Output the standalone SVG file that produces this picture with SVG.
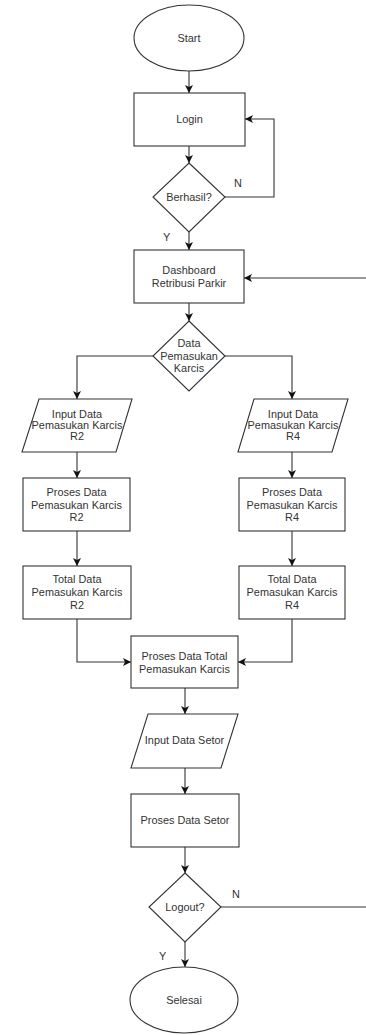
<svg xmlns="http://www.w3.org/2000/svg" width="366" height="1035" viewBox="0 0 366 1035">
<style>
.s{fill:#fff;stroke:#333;stroke-width:1.1}
.t{font-family:"Liberation Sans",Arial,sans-serif;font-size:10.9px;fill:#333;text-anchor:middle}
.c{fill:none;stroke:#333;stroke-width:1.1;marker-end:url(#ah)}
.l{font-family:"Liberation Sans",Arial,sans-serif;font-size:10.9px;fill:#333}
</style>
<defs>
<marker id="ah" markerUnits="userSpaceOnUse" markerWidth="10" markerHeight="10" refX="8" refY="4" orient="auto">
<path d="M0,0 L8,4 L0,8 L2,4 Z" fill="#111"/>
</marker>
</defs>
<rect width="366" height="1035" fill="#fff"/>
<g id="connectors">
<path class="c" d="M189,71 V93"/>
<path class="c" d="M189,146 V163"/>
<path class="c" d="M225,197 H274 V119 H245"/>
<path class="c" d="M189,232 V250"/>
<path class="c" d="M189,303 V321"/>
<path class="c" d="M153,356 H77 V399"/>
<path class="c" d="M225,356 H292 V399"/>
<path class="c" d="M77,452 V478"/>
<path class="c" d="M292,452 V478"/>
<path class="c" d="M77,531 V566"/>
<path class="c" d="M292,531 V566"/>
<path class="c" d="M77,619 V662 H131"/>
<path class="c" d="M292,619 V662 H238"/>
<path class="c" d="M185,688 V714"/>
<path class="c" d="M185,768 V794"/>
<path class="c" d="M185,847 V873"/>
<path class="c" d="M185,942 V967"/>
<path class="c" d="M221,907 H380 V278 H244"/>
<text class="l" x="234" y="187">N</text>
<text class="l" x="163" y="241">Y</text>
<text class="l" x="232" y="898">N</text>
<text class="l" x="159" y="960">Y</text>
</g>
<g id="start"><ellipse class="s" cx="189" cy="38" rx="55" ry="33"/><text class="t" x="189" y="42">Start</text></g>
<g id="login"><rect class="s" x="134" y="93" width="111" height="53"/><text class="t" x="189.5" y="123">Login</text></g>
<g id="berhasil"><polygon class="s" points="189,163 225,197 189,232 153,197"/><text class="t" x="189" y="201">Berhasil?</text></g>
<g id="dashboard"><rect class="s" x="134" y="250" width="110" height="53"/><text class="t" x="189" y="274">Dashboard</text><text class="t" x="189" y="287">Retribusi Parkir</text></g>
<g id="data-pemasukan"><polygon class="s" points="189,321 225,356 189,391 153,356"/><text class="t" x="189" y="347">Data</text><text class="t" x="189" y="360">Pemasukan</text><text class="t" x="189" y="372">Karcis</text></g>
<g id="input-r2"><polygon class="s" points="39,399 132,399 116,452 22,452"/><text class="t" x="77" y="418">Input Data</text><text class="t" x="77" y="429">Pemasukan Karcis</text><text class="t" x="77" y="440">R2</text></g>
<g id="input-r4"><polygon class="s" points="254,399 348,399 332,452 238,452"/><text class="t" x="293" y="418">Input Data</text><text class="t" x="293" y="429">Pemasukan Karcis</text><text class="t" x="293" y="440">R4</text></g>
<g id="proses-r2"><rect class="s" x="23" y="478" width="107" height="53"/><text class="t" x="76.5" y="496">Proses Data</text><text class="t" x="76.5" y="509">Pemasukan Karcis</text><text class="t" x="76.5" y="521">R2</text></g>
<g id="proses-r4"><rect class="s" x="239" y="478" width="106" height="53"/><text class="t" x="292" y="496">Proses Data</text><text class="t" x="292" y="509">Pemasukan Karcis</text><text class="t" x="292" y="521">R4</text></g>
<g id="total-r2"><rect class="s" x="23" y="566" width="108" height="53"/><text class="t" x="77" y="583">Total Data</text><text class="t" x="77" y="596">Pemasukan Karcis</text><text class="t" x="77" y="609">R2</text></g>
<g id="total-r4"><rect class="s" x="239" y="566" width="106" height="53"/><text class="t" x="292" y="583">Total Data</text><text class="t" x="292" y="596">Pemasukan Karcis</text><text class="t" x="292" y="609">R4</text></g>
<g id="proses-total"><rect class="s" x="131" y="636" width="107" height="52"/><text class="t" x="184.5" y="660">Proses Data Total</text><text class="t" x="184.5" y="673">Pemasukan Karcis</text></g>
<g id="input-setor"><polygon class="s" points="148,714 238,714 221,768 131,768"/><text class="t" x="184.5" y="744">Input Data Setor</text></g>
<g id="proses-setor"><rect class="s" x="131" y="794" width="108" height="53"/><text class="t" x="185" y="824">Proses Data Setor</text></g>
<g id="logout"><polygon class="s" points="185,873 221,907 185,942 149,907"/><text class="t" x="185" y="911">Logout?</text></g>
<g id="selesai"><ellipse class="s" cx="184" cy="1000" rx="54" ry="33"/><text class="t" x="184" y="1004">Selesai</text></g>
</svg>
